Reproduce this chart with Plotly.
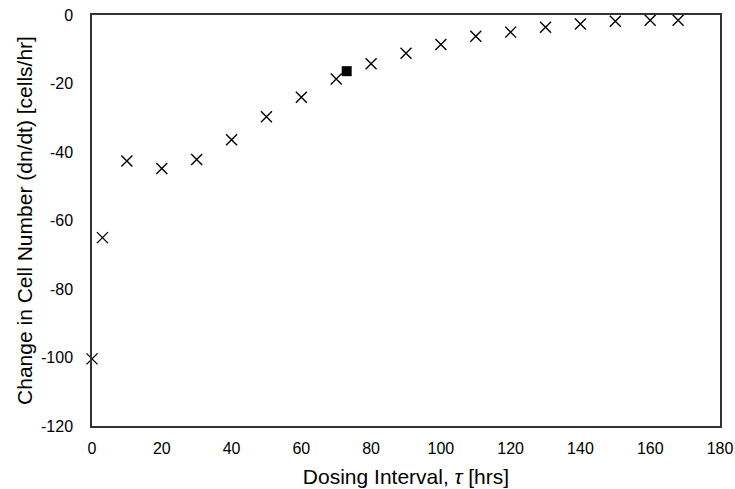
import plotly.graph_objects as go

tau = [0, 3, 10, 20, 30, 40, 50, 60, 70, 80, 90, 100, 110, 120, 130, 140, 150, 160, 168]
dndt = [-100.4, -65.0, -42.6, -44.8, -42.2, -36.4, -29.7, -24.0, -18.7, -14.2, -11.2,
        -8.6, -6.2, -5.0, -3.6, -2.6, -1.8, -1.5, -1.5]
opt_tau = [73]
opt_dndt = [-16.4]

xticks = [0, 20, 40, 60, 80, 100, 120, 140, 160, 180]
xticklabels = ["0", "20", "40", "60", "80", "100", "120", "140", "160", "180"]
yticks = [0, -20, -40, -60, -80, -100, -120]
yticklabels = ["0", "-20", "-40", "-60", "-80", "-100", "-120"]

FONT = "Liberation Sans, Arial, Helvetica"

fig = go.Figure()
fig.add_trace(go.Scatter(
    x=tau, y=dndt, mode="markers", cliponaxis=False,
    marker=dict(symbol="x-thin", size=11, color="black",
                line=dict(width=1.4, color="black")),
    showlegend=False))
fig.add_trace(go.Scatter(
    x=opt_tau, y=opt_dndt, mode="markers", cliponaxis=False,
    marker=dict(symbol="square", size=10, color="black"),
    showlegend=False))

axis_common = dict(showgrid=False, zeroline=False, showline=True, mirror=True,
                   linecolor="#333333", linewidth=1.5, ticks="", automargin=False,
                   tickfont=dict(family=FONT, size=16, color="black"))

fig.update_layout(
    width=735, height=489,
    margin=dict(l=92, r=15, t=15, b=63),
    plot_bgcolor="white", paper_bgcolor="white",
    xaxis=dict(range=[0, 180], tickvals=xticks, ticktext=xticklabels,
               ticklabelstandoff=7,
               title=dict(text="Dosing Interval, <i>τ</i> [hrs]", standoff=13,
                          font=dict(family=FONT, size=21, color="black")),
               **axis_common),
    yaxis=dict(range=[-120, 0], tickvals=yticks, ticktext=yticklabels,
               ticklabelstandoff=14,
               title=dict(text="Change in Cell Number (dn/dt) [cells/hr]", standoff=3,
                          font=dict(family=FONT, size=21, color="black")),
               **axis_common),
)

fig.write_html("out.html", config={"displayModeBar": False},
               post_script="document.body.style.margin='0';")
